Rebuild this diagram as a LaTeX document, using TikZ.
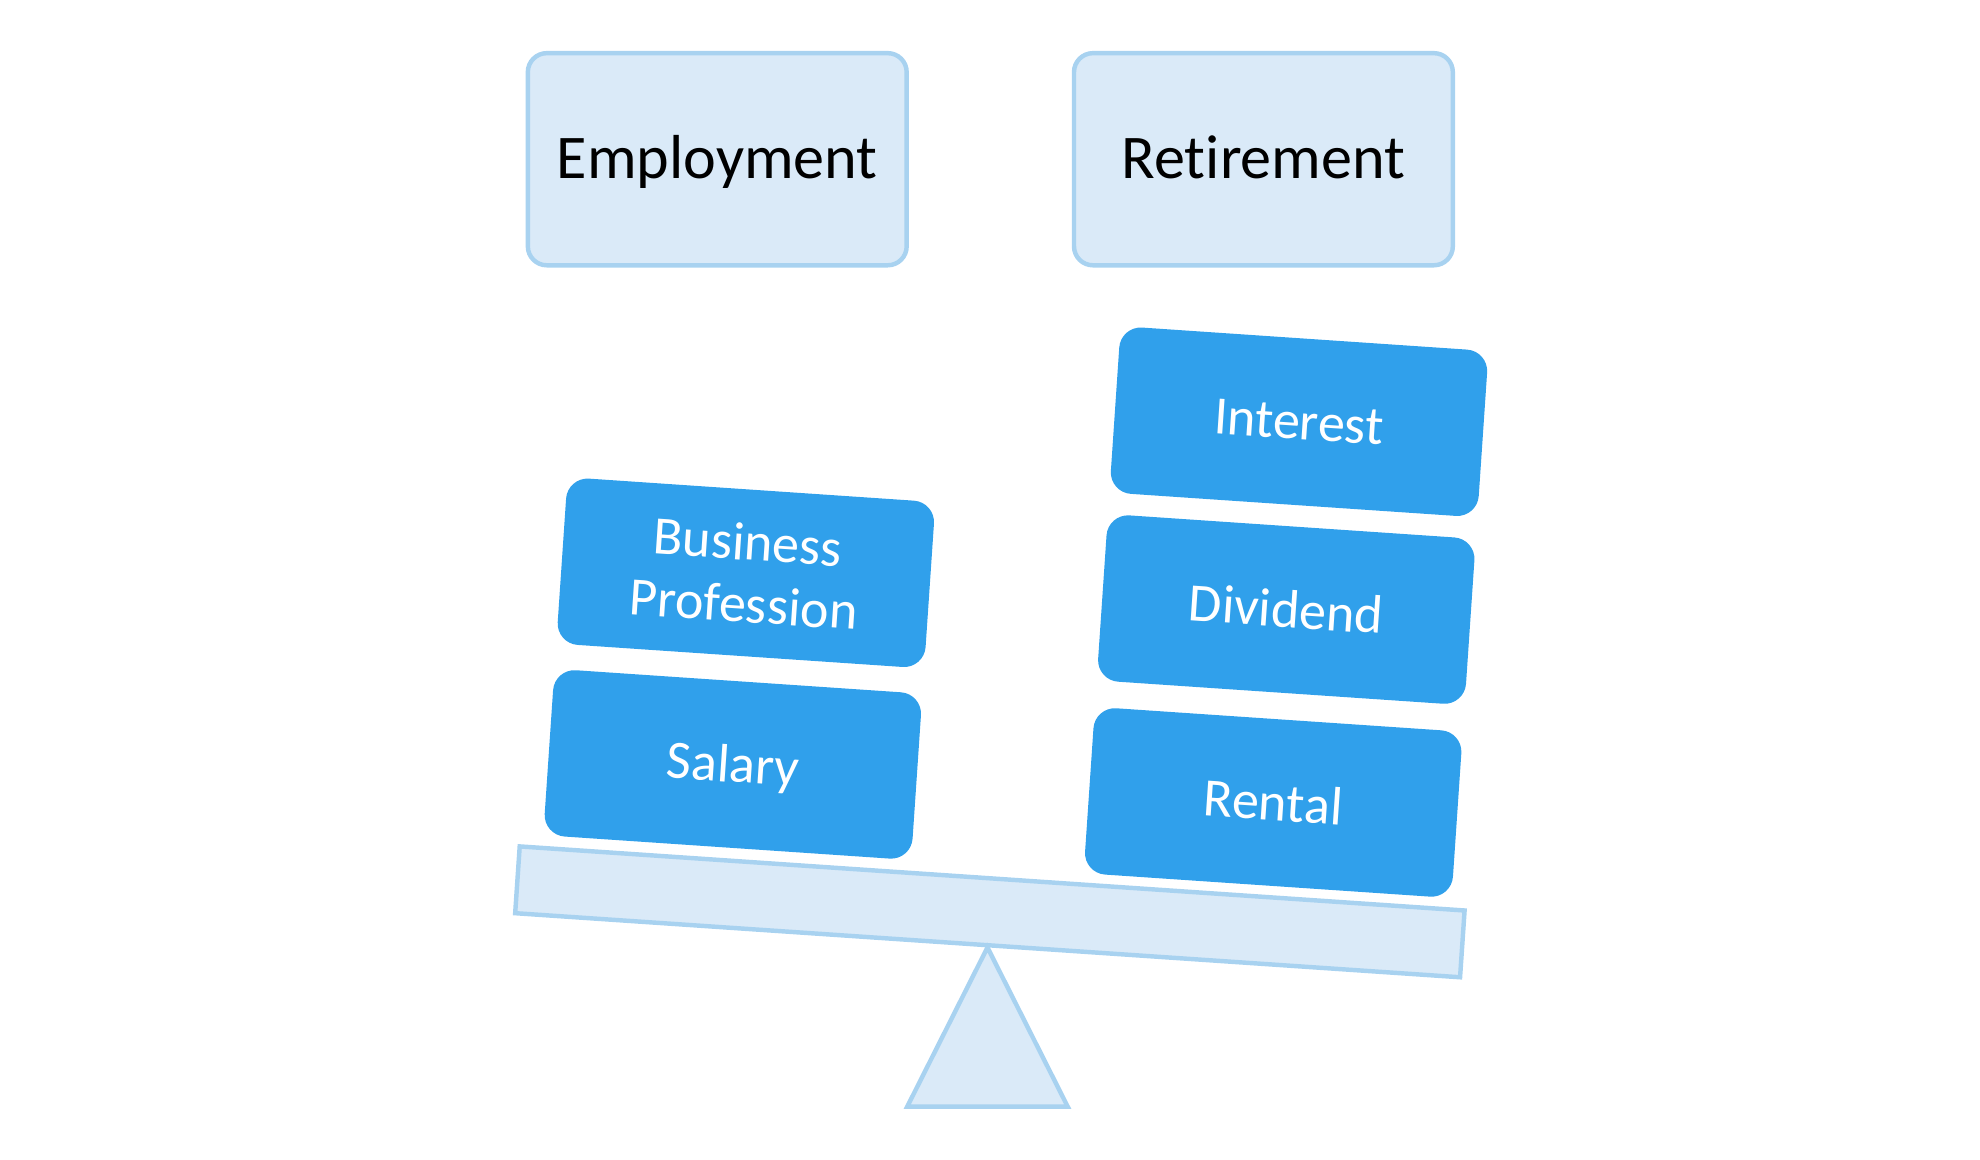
\documentclass[tikz,border=0pt]{standalone}
\usepackage{fontspec}
\setmainfont{Carlito}[Ligatures=CommonOff]
\usetikzlibrary{positioning}
\definecolor{panefill}{HTML}{DAEAF8}
\definecolor{paneline}{HTML}{A8D2F0}
\definecolor{blockblue}{HTML}{30A0EB}

\begin{document}
\begin{tikzpicture}[node distance=1.29cm, semithick,
    heading/.style={rectangle, rounded corners=0.15cm, draw=paneline, fill=panefill, line width=1pt,
                    minimum width=3cm, minimum height=1.68cm, text height=0.85em, text depth=0pt,
                    font=\fontsize{14}{16}\selectfont},
    income/.style={rectangle, rounded corners=0.17cm, fill=blockblue, text=white, align=center,
                   minimum width=2.92cm, minimum height=1.32cm, font=\fontsize{12.2}{14}\selectfont},
    oneline/.style={income, text height=0.8em, text depth=0pt},
    plank/.style={draw=paneline, fill=panefill, line width=1pt}]
    \useasboundingbox (0,0) rectangle (15.68,9.186);

    \node[heading]  (employment) at (5.68,7.925)       {Employment};
    \node[heading]  (retirement) [right=of employment] {Retirement};

    % see-saw
    \node[plank, rectangle, rotate=-3.88, minimum width=7.5cm, minimum height=0.53cm, inner sep=0pt] (beam) at (7.839,1.965) {};
    \coordinate (pivot) at (beam.south);
    \draw[plank] (pivot) -- ++(-0.635,-1.26) -- ++(1.27,0) -- cycle;

    \begin{scope}[shift={(beam.center)}, rotate=-3.88, transform shape, node distance=0.17cm]
        \node[oneline] (salary)   at (-2.11,1.027)         {Salary};
        \node[income]  (business) [above=0.18 of salary]   {Business\\Profession};
        \node[oneline] (rental)   at (2.18,1.016)          {Rental};
        \node[oneline] (dividend) [above=0.19 of rental]   {Dividend};
        \node[oneline] (interest) [above=0.15 of dividend] {Interest};
    \end{scope}
\end{tikzpicture}
\end{document}
